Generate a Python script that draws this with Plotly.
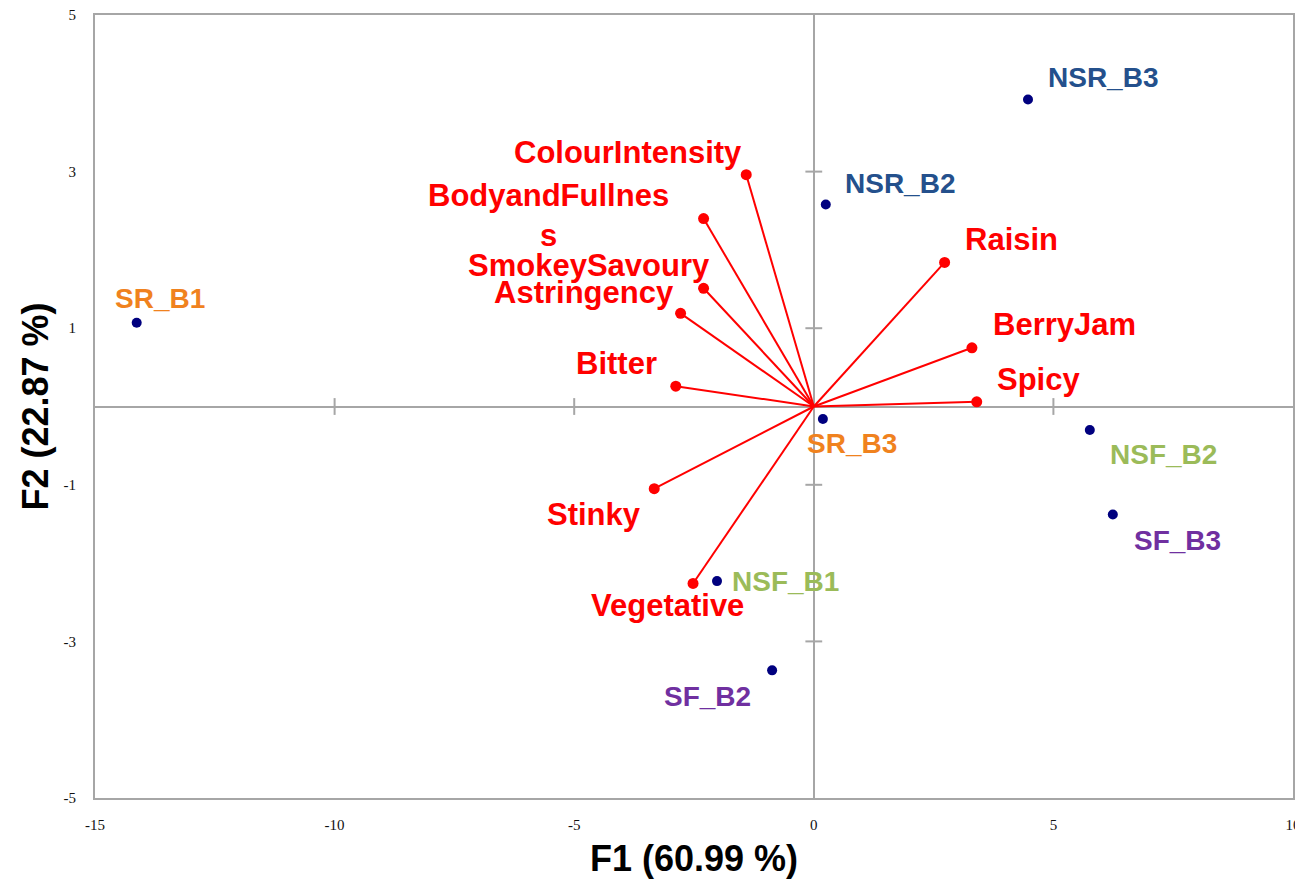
import plotly.graph_objects as go

# ---------- data ----------
obs_names = ["SR_B1", "NSR_B3", "NSR_B2", "SR_B3", "NSF_B2", "SF_B3", "NSF_B1", "SF_B2"]
obs_f1 = [-14.13, 4.47, 0.25, 0.19, 5.76, 6.24, -2.02, -0.87]
obs_f2 = [1.07, 3.92, 2.58, -0.16, -0.30, -1.38, -2.23, -3.37]

var_names = ["ColourIntensity", "BodyandFullnes<br>s", "SmokeySavoury", "Astringency",
             "Bitter", "Raisin", "BerryJam", "Spicy", "Stinky", "Vegetative"]
var_f1 = [-1.41, -2.30, -2.30, -2.78, -2.88, 2.73, 3.30, 3.40, -3.33, -2.52]
var_f2 = [2.96, 2.40, 1.51, 1.19, 0.26, 1.84, 0.75, 0.06, -1.05, -2.26]

x_ticks = [-15, -10, -5, 0, 5, 10]
y_ticks = [-5, -3, -1, 1, 3, 5]

# ---------- styles (label colours and pixel offsets) ----------
obs_colors = {"SR_B1": "#F0821E", "SR_B3": "#F0821E", "NSR_B3": "#24508C", "NSR_B2": "#24508C",
              "NSF_B2": "#9BBB59", "NSF_B1": "#9BBB59", "SF_B3": "#7030A0", "SF_B2": "#7030A0"}
obs_offsets = {"SR_B1": (23, 24), "NSR_B3": (75, 22), "NSR_B2": (74, 21), "SR_B3": (29, -24),
               "NSF_B2": (74, -25), "SF_B3": (65, -26), "NSF_B1": (68, 0), "SF_B2": (-65, -26)}
var_offsets = {"ColourIntensity": (-118, 22), "BodyandFullnes<br>s": (-155, 3), "SmokeySavoury": (-115, 23),
               "Astringency": (-97, 21), "Bitter": (-59, 23), "Raisin": (67, 23), "BerryJam": (93, 23),
               "Spicy": (62, 22), "Stinky": (-60, -26), "Vegetative": (-26, -22)}

AX_GRAY = "#A6A6A6"
fig = go.Figure()

# tick marks on the zero axes
fig.add_trace(go.Scatter(x=[t for t in x_ticks if t not in (0, -15, 10)], y=[0] * 3, mode="markers",
                         marker=dict(symbol="line-ns", size=12, line=dict(width=2, color=AX_GRAY)),
                         hoverinfo="skip", showlegend=False))
fig.add_trace(go.Scatter(x=[0] * 4, y=[t for t in y_ticks if t not in (-5, 5)], mode="markers",
                         marker=dict(symbol="line-ew", size=12, line=dict(width=2, color=AX_GRAY)),
                         hoverinfo="skip", showlegend=False))

# variable vectors
lx, ly = [], []
for a, b in zip(var_f1, var_f2):
    lx += [0, a, None]
    ly += [0, b, None]
fig.add_trace(go.Scatter(x=lx, y=ly, mode="lines", line=dict(color="#FF0000", width=2),
                         hoverinfo="skip", showlegend=False))
fig.add_trace(go.Scatter(x=var_f1, y=var_f2, mode="markers", marker=dict(color="#FF0000", size=11),
                         showlegend=False))

# observations
fig.add_trace(go.Scatter(x=obs_f1, y=obs_f2, mode="markers", marker=dict(color="#00007F", size=10),
                         showlegend=False))

for n, a, b in zip(var_names, var_f1, var_f2):
    dx, dy = var_offsets[n]
    fig.add_annotation(x=a, y=b, text="<b>" + n + "</b>", showarrow=False, xshift=dx, yshift=dy,
                       xanchor="center", yanchor="middle",
                       font=dict(family="Liberation Sans, Arial", size=31, color="#FF0000"))
for n, a, b in zip(obs_names, obs_f1, obs_f2):
    dx, dy = obs_offsets[n]
    fig.add_annotation(x=a, y=b, text="<b>" + n + "</b>", showarrow=False, xshift=dx, yshift=dy,
                       xanchor="center", yanchor="middle",
                       font=dict(family="Liberation Sans, Arial", size=28, color=obs_colors[n]))

# axis titles
fig.add_annotation(x=0.5, y=0, xref="paper", yref="paper", yshift=-60, showarrow=False,
                   text="<b>F1 (60.99 %)</b>", yanchor="middle",
                   font=dict(family="Liberation Sans, Arial", size=36, color="#000000"))
fig.add_annotation(x=0, y=0.5, xref="paper", yref="paper", xshift=-60, showarrow=False,
                   text="<b>F2 (22.87 %)</b>", textangle=-90, xanchor="center",
                   font=dict(family="Liberation Sans, Arial", size=36, color="#000000"))

axis_common = dict(showgrid=False, zeroline=True, zerolinecolor=AX_GRAY, zerolinewidth=2,
                   showline=True, mirror=True, linecolor=AX_GRAY, linewidth=2,
                   ticks="outside", tickcolor="rgba(0,0,0,0)", automargin=False,
                   ticklabeloverflow="allow",
                   tickfont=dict(family="Liberation Serif, Times New Roman", size=15, color="#111111"))
fig.update_xaxes(range=[-15, 10], tickvals=x_ticks, ticktext=[str(t) for t in x_ticks],
                 ticklen=12, **axis_common)
fig.update_yaxes(range=[-5, 5], tickvals=y_ticks, ticktext=[str(t) for t in y_ticks],
                 ticklen=14, **axis_common)

# the page body adds an 8px offset, compensated in the margins
fig.update_layout(width=1303, height=887, margin=dict(l=87, r=18, t=7, b=97, autoexpand=False),
                  plot_bgcolor="white", paper_bgcolor="white", showlegend=False)

fig.write_html("out.html")
